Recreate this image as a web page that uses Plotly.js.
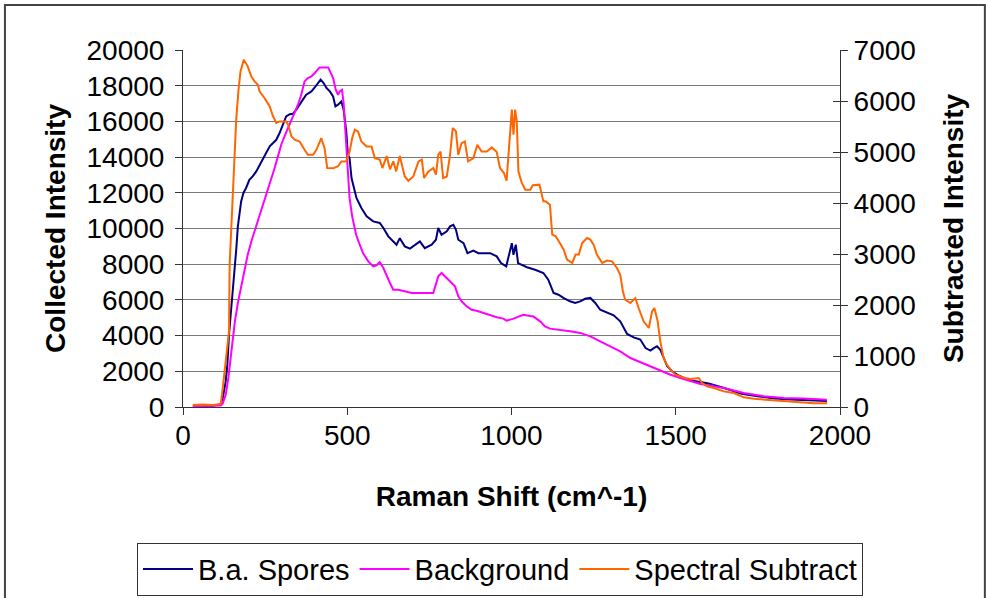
<!DOCTYPE html>
<html>
<head>
<meta charset="utf-8">
<script src="https://cdn.plot.ly/plotly-3.0.1.min.js"></script>
<style>
html,body{margin:0;padding:0;background:#fff;}
#chart{width:986px;height:598px;}
</style>
</head>
<body>
<div id="chart"></div>
<script>
// ---- Data ----
var seriesNames = ["B.a. Spores", "Background", "Spectral Subtract"];

var sporesShift = [30,60,90,115,121,130,135,140,149,157,162,167,172,177,184,192,202,212,223,233,243,253,264,274,284,294,304,314,325,335,345,355,365,375,391,401,411,419,428,437,447,457,464,472,482,489,497,502,507,513,528,543,559,579,599,610,625,640,650,660,675,691,706,721,736,757,770,777,787,803,813,823,831,838,854,866,884,899,914,935,955,968,984,996,1001,1006,1013,1020,1032,1047,1072,1097,1112,1128,1143,1158,1178,1194,1209,1224,1240,1255,1270,1291,1311,1331,1352,1372,1392,1408,1423,1433,1443,1453,1463,1474,1489,1504,1524,1545,1575,1600,1650,1700,1750,1800,1850,1900,1960];
var sporesIntensity = [60,80,70,150,500,1430,2370,4050,5830,7410,8810,10120,10960,11520,11990,12270,12730,12920,13200,13570,13850,14230,14600,14790,14970,15350,15810,16280,16400,16430,16660,16970,17220,17500,17680,17900,18150,18340,18150,17870,17680,17400,16840,16940,17120,16660,15440,14130,13950,12830,11710,11150,10680,10400,10310,10030,9560,9280,9090,9460,9000,8870,9090,9280,8900,9090,9370,10030,9650,9840,10120,10210,9930,9370,9180,8620,8760,8620,8620,8620,8440,8060,7880,8900,9180,8530,9090,8060,7940,7830,7690,7510,7130,6390,6290,6110,5920,5830,5920,6060,6110,5830,5450,5270,5140,4800,4090,3900,3780,3300,3160,3300,3400,3210,2750,2280,2000,1810,1630,1480,1400,1320,1050,740,600,480,420,380,340];

var backgroundShift = [30,60,90,115,121,130,138,145,150,158,167,177,187,197,208,218,228,238,248,259,269,279,289,299,309,320,330,340,350,360,370,380,391,401,411,416,442,447,457,465,472,477,484,489,495,502,507,515,522,527,538,548,564,579,589,599,610,620,630,640,655,675,696,762,770,777,787,797,813,828,838,848,864,879,894,914,935,955,975,985,1006,1021,1036,1057,1066,1087,1102,1117,1148,1178,1209,1240,1270,1301,1331,1362,1392,1423,1453,1484,1514,1545,1575,1646,1707,1768,1829,1890,1960];
var backgroundIntensity = [50,60,50,80,200,690,1625,2835,3585,4795,5826,6756,7787,8530,9277,9837,10400,10958,11612,12265,12830,13390,14040,14694,15160,15630,16000,16470,16935,17495,18240,18430,18520,18710,18895,19025,19025,18800,18430,17775,17495,17680,17775,17030,15254,13200,11708,10680,10117,9650,9090,8624,8157,7877,7940,8120,7787,7317,6946,6570,6570,6480,6386,6386,6850,7317,7507,7317,7037,6756,6196,5920,5636,5450,5390,5266,5140,5028,4950,4840,4950,5080,5170,5100,5080,4800,4515,4390,4330,4240,4150,3960,3675,3400,3115,2745,2520,2275,2030,1810,1625,1440,1290,1064,780,600,505,470,410];

var subtractShift = [30,60,90,115,121,130,140,142,149,157,162,169,175,185,197,208,218,228,233,248,264,274,284,294,314,320,330,340,355,370,380,396,406,421,431,439,457,472,482,497,507,515,523,533,543,559,574,584,599,607,620,630,640,649,660,675,686,701,717,727,734,747,762,770,777,784,792,803,813,821,831,838,848,858,868,884,896,909,925,940,955,965,977,985,994,1001,1006,1011,1016,1021,1031,1042,1057,1065,1085,1097,1104,1117,1124,1134,1144,1159,1169,1185,1195,1205,1215,1230,1240,1250,1260,1276,1291,1306,1321,1331,1339,1346,1362,1377,1387,1402,1418,1428,1435,1445,1453,1463,1473,1484,1499,1514,1529,1545,1560,1570,1580,1595,1616,1646,1677,1707,1738,1778,1819,1870,1921,1961];
var subtractIntensity = [40,50,40,60,370,860,1480,2790,3770,4785,5634,6222,6581,6810,6680,6480,6385,6320,6190,6060,5895,5700,5570,5600,5600,5536,5307,5242,5206,5043,4945,4945,5043,5272,5076,4685,4680,4720,4816,4820,5000,5274,5438,5400,5206,5108,5108,4880,4850,4685,4920,4660,4816,4620,4920,4521,4437,4521,4816,4850,4490,4620,4685,4555,4945,5010,4490,4521,4945,5470,5404,4945,5173,5206,4816,4880,5141,5010,5010,5090,5000,4685,4588,4437,5274,5830,5340,5830,5600,4620,4400,4261,4261,4350,4360,4032,4032,3966,3379,3350,3250,3085,2889,2825,2988,2988,3216,3314,3282,3183,2988,2825,2870,2856,2726,2594,2267,2104,2039,2137,1941,1679,1549,1875,1941,1679,1287,961,830,732,634,600,569,550,569,569,470,405,372,306,275,189,160,140,120,95,75,75];

var xTicks = [0, 500, 1000, 1500, 2000];
var leftTicks = [0,2000,4000,6000,8000,10000,12000,14000,16000,18000,20000];
var rightTicks = [0,1000,2000,3000,4000,5000,6000,7000];

// ---- Styling ----
var FONT = "Liberation Sans, Arial, Helvetica, sans-serif";
var AXC = "#333333";
var TICKSZ = 28, TITLESZ = 28;

var traces = [
  {x: sporesShift, y: sporesIntensity, name: seriesNames[0], type: "scatter", mode: "lines",
   line: {color: "#000080", width: 2}, yaxis: "y"},
  {x: backgroundShift, y: backgroundIntensity, name: seriesNames[1], type: "scatter", mode: "lines",
   line: {color: "#FF00FF", width: 2}, yaxis: "y"},
  {x: subtractShift, y: subtractIntensity, name: seriesNames[2], type: "scatter", mode: "lines",
   line: {color: "#FF6600", width: 2}, yaxis: "y2"},
  {x: [], y: [], yaxis: "y3", showlegend: false, hoverinfo: "skip", type: "scatter", mode: "lines"}
];

var layout = {
  width: 986, height: 598,
  margin: {l: 183, r: 146, t: 50, b: 191, pad: 0, autoexpand: false},
  paper_bgcolor: "#ffffff", plot_bgcolor: "#ffffff",
  font: {family: FONT, color: "#000000", size: TICKSZ},
  showlegend: true,
  xaxis: {
    range: [0, 2000], tickmode: "array", tickvals: xTicks, ticktext: xTicks.map(String),
    ticks: "outside", ticklen: 7, tickwidth: 1, tickcolor: AXC, ticklabelstandoff: -4,
    showline: true, linecolor: AXC, linewidth: 1, showgrid: false, zeroline: false,
    tickfont: {size: TICKSZ, family: FONT, color: "#000"},
    title: {text: "Raman Shift (cm^-1)", font: {size: TITLESZ, family: FONT, color: "#000", weight: "bold"}, standoff: 36}
  },
  yaxis: {
    range: [0, 20000], tickmode: "array", tickvals: leftTicks, ticktext: leftTicks.map(String),
    ticks: "outside", ticklen: 7, tickwidth: 1, tickcolor: AXC, ticklabelstandoff: 5,
    showline: true, linecolor: AXC, linewidth: 1,
    showgrid: true, gridcolor: "#7a7a7a", gridwidth: 1, zeroline: false,
    tickfont: {size: TICKSZ, family: FONT, color: "#000"},
    title: {text: "Collected Intensity", font: {size: TITLESZ, family: FONT, color: "#000", weight: "bold"}, standoff: 12}
  },
  yaxis2: {
    range: [0, 7000], overlaying: "y", side: "right", tickmode: "array", tickvals: rightTicks, ticktext: rightTicks.map(String),
    ticks: "outside", ticklen: 7, tickwidth: 1, tickcolor: AXC,
    showline: true, linecolor: AXC, linewidth: 1, showgrid: false, zeroline: false,
    tickfont: {size: TICKSZ, family: FONT, color: "#000"},
    title: {text: "Subtracted Intensity", font: {size: TITLESZ, family: FONT, color: "#000", weight: "bold"}, standoff: 28}
  },
  yaxis3: {
    range: [0, 7000], overlaying: "y", side: "right", tickmode: "array", tickvals: rightTicks,
    ticks: "inside", ticklen: 7, tickwidth: 1, tickcolor: AXC,
    showticklabels: false, showline: false, showgrid: false, zeroline: false
  },
  legend: {
    orientation: "h", x: -0.07, xanchor: "left", y: -0.38, yanchor: "top",
    bgcolor: "#ffffff", bordercolor: AXC, borderwidth: 1, itemwidth: 50,
    font: {size: 29, family: FONT, color: "#000"}
  },
  shapes: [
    {type: "rect", xref: "paper", yref: "paper", layer: "below",
     x0: -0.271, x1: 1.2205, y0: -0.6, y1: 1.126,
     line: {color: "#444444", width: 2}, fillcolor: "rgba(0,0,0,0)"}
  ]
};

Plotly.newPlot("chart", traces, layout, {displayModeBar: false, staticPlot: true});
</script>
</body>
</html>
